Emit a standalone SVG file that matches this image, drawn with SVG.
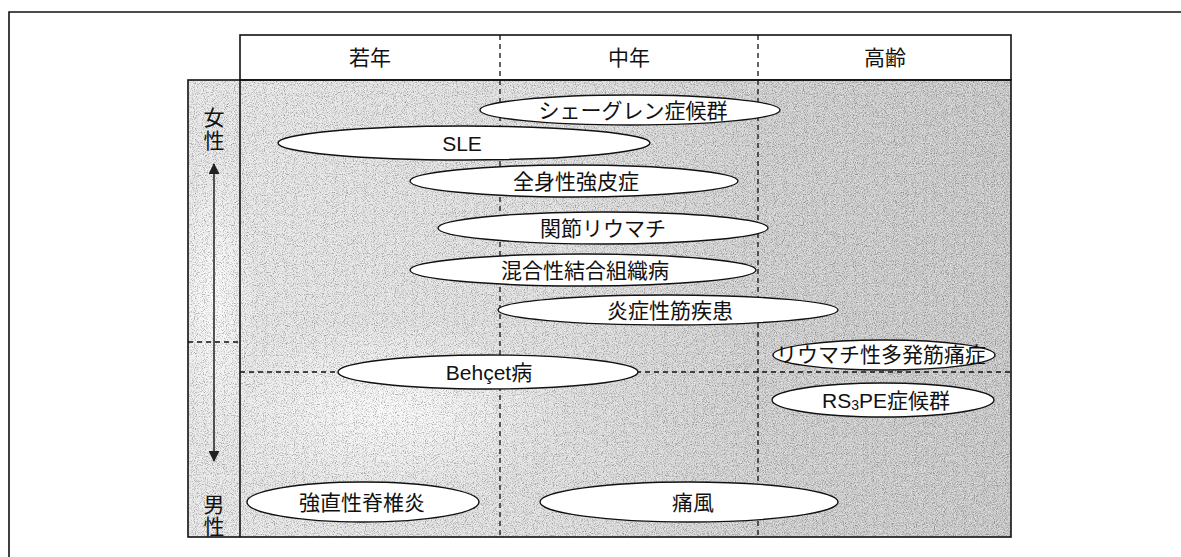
<svg xmlns="http://www.w3.org/2000/svg" width="1181" height="557" viewBox="0 0 1181 557">
<style>
text{font-family:"Liberation Sans","Noto Sans CJK JP",sans-serif;font-size:21px;fill:#111;text-anchor:middle}
.frame{fill:none;stroke:#111;stroke-width:1.6}
.dash{fill:none;stroke:#111;stroke-width:1.3;stroke-dasharray:5 4}
.node ellipse{fill:#fff;stroke:#111;stroke-width:1.4}
</style>
<defs>
<linearGradient id="shade" x1="0" y1="0" x2="1" y2="0">
<stop offset="0" stop-color="#e6e6e6"/>
<stop offset="0.45" stop-color="#dcdcdc"/>
<stop offset="0.7" stop-color="#cbcbcb"/>
<stop offset="1" stop-color="#c4c4c4"/>
</linearGradient>
<radialGradient id="light" cx="0.5" cy="0.5" r="0.5">
<stop offset="0" stop-color="#fff" stop-opacity="0.85"/>
<stop offset="1" stop-color="#fff" stop-opacity="0"/>
</radialGradient>
<filter id="grain" x="0" y="0" width="1" height="1">
<feTurbulence type="fractalNoise" baseFrequency="0.85" numOctaves="2" seed="4"/>
<feColorMatrix type="matrix" values="0 0 0 0 1  0 0 0 0 1  0 0 0 0 1  -3.2 0 0 0 1.9"/>
</filter>
<filter id="grain2" x="0" y="0" width="1" height="1">
<feTurbulence type="fractalNoise" baseFrequency="0.9" numOctaves="2" seed="9"/>
<feColorMatrix type="matrix" values="0 0 0 0 0  0 0 0 0 0  0 0 0 0 0  3.2 0 0 0 -1.55"/>
</filter>
<marker id="ah" viewBox="0 0 10 10" refX="9" refY="5" markerWidth="14" markerHeight="11" markerUnits="userSpaceOnUse" orient="auto">
<path d="M0,0 L10,5 L0,10 z" fill="#222"/>
</marker>
</defs>

<!-- outer page frame -->
<path d="M9,557 V12 H1181" class="frame" stroke-width="1.4"/>

<!-- background stipple -->
<g id="background">
<rect x="188" y="80" width="823" height="457" fill="url(#shade)"/>
<ellipse cx="390" cy="410" rx="180" ry="90" fill="url(#light)"/>
<ellipse cx="215" cy="300" rx="40" ry="150" fill="url(#light)"/>
<rect x="188" y="80" width="823" height="457" filter="url(#grain)" opacity="0.5"/>
<rect x="188" y="80" width="823" height="457" filter="url(#grain2)" opacity="0.3"/>
</g>

<!-- frame lines and grid -->
<g id="grid">
<rect x="240" y="35" width="771" height="45" fill="#fff" class="frame"/>
<rect x="188" y="80" width="823" height="457" class="frame"/>
<line x1="240" y1="80" x2="240" y2="537" class="frame"/>
<line x1="500" y1="35" x2="500" y2="537" class="dash"/>
<line x1="758" y1="35" x2="758" y2="537" class="dash"/>
<line x1="188" y1="342" x2="240" y2="342" class="dash"/>
<line x1="240" y1="372" x2="1011" y2="372" class="dash"/>
</g>

<!-- headers -->
<g id="header-young"><text x="370" y="65">若年</text></g>
<g id="header-middle"><text x="629" y="65">中年</text></g>
<g id="header-old"><text x="885" y="65">高齢</text></g>

<!-- side labels -->
<g id="label-female"><text x="214" y="125">女</text><text x="214" y="148">性</text></g>
<g id="label-male"><text x="214" y="512">男</text><text x="214" y="534">性</text></g>

<!-- connectors -->
<g id="connectors">
<line x1="214" y1="300" x2="214" y2="164" stroke="#222" stroke-width="1.5" marker-end="url(#ah)"/>
<line x1="214" y1="300" x2="214" y2="461" stroke="#222" stroke-width="1.5" marker-end="url(#ah)"/>
</g>

<!-- disease nodes -->
<g id="sjogren" class="node"><ellipse cx="630" cy="110" rx="150" ry="15"/><text x="633" y="118">シェーグレン症候群</text></g>
<g id="sle" class="node"><ellipse cx="464" cy="143" rx="186" ry="17"/><text x="462" y="151">SLE</text></g>
<g id="ssc" class="node"><ellipse cx="574" cy="181" rx="164" ry="16"/><text x="576" y="189">全身性強皮症</text></g>
<g id="ra" class="node"><ellipse cx="603" cy="228" rx="165" ry="16"/><text x="603" y="236">関節リウマチ</text></g>
<g id="mctd" class="node"><ellipse cx="583" cy="270" rx="173" ry="16"/><text x="585" y="278">混合性結合組織病</text></g>
<g id="myositis" class="node"><ellipse cx="668" cy="310" rx="170" ry="15"/><text x="670" y="318">炎症性筋疾患</text></g>
<g id="pmr" class="node"><ellipse cx="884" cy="355" rx="111" ry="15"/><text x="881" y="362" font-size="19.5">リウマチ性多発筋痛症</text></g>
<g id="behcet" class="node"><ellipse cx="488" cy="372" rx="150" ry="17"/><text x="489" y="380">Behçet病</text></g>
<g id="rs3pe" class="node"><ellipse cx="883" cy="400" rx="111" ry="17"/><text x="886" y="408">RS<tspan font-size="14" dy="2">3</tspan><tspan dy="-2">PE症候群</tspan></text></g>
<g id="as" class="node"><ellipse cx="363" cy="502" rx="116" ry="20"/><text x="362" y="510">強直性脊椎炎</text></g>
<g id="gout" class="node"><ellipse cx="689" cy="502" rx="149" ry="20"/><text x="693" y="510">痛風</text></g>
</svg>
